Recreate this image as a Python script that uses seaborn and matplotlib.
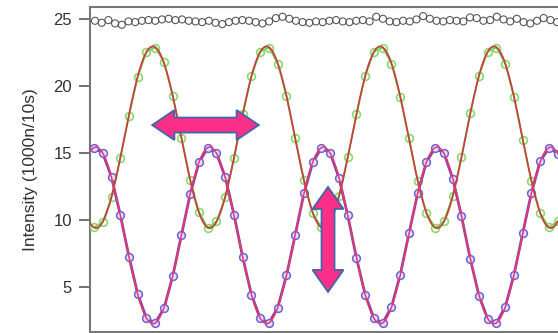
import numpy as np
import pandas as pd
import matplotlib
matplotlib.use("Agg")
import matplotlib.pyplot as plt
import matplotlib.patches as mpatches
import seaborn as sns

# ---------------- data ----------------
# sampling positions (x in units of the x-axis tick spacing)
x_start, x_step, n_pts = -0.1216, 0.11824, 54
black_start, black_step, n_black = -0.108, 0.0905, 70

green_vals = [9.45, 9.85, 11.7, 14.6, 17.8, 20.7, 22.6, 22.9, 21.8, 19.3,
              16.1, 13.0, 10.6, 9.4, 9.9, 11.7, 14.6, 17.9, 20.8, 22.6,
              22.9, 21.7, 19.3, 16.1, 13.0, 10.5, 9.45, 9.9, 11.8, 14.7,
              17.9, 20.8, 22.6, 22.9, 21.7, 19.2, 16.1, 12.9, 10.5, 9.4,
              9.9, 11.8, 14.7, 18.0, 20.8, 22.6, 22.9, 21.7, 19.2, 16.0,
              12.9, 10.5, 9.45, 9.9]
purple_vals = [15.4, 15.0, 13.2, 10.4, 7.25, 4.45, 2.65, 2.3, 3.4, 5.8,
               8.9, 11.95, 14.3, 15.4, 15.0, 13.2, 10.4, 7.2, 4.4, 2.65,
               2.3, 3.45, 5.85, 8.9, 12.0, 14.3, 15.4, 15.0, 13.15, 10.35,
               7.15, 4.4, 2.65, 2.3, 3.5, 5.9, 9.0, 12.0, 14.35, 15.4,
               15.0, 13.1, 10.3, 7.1, 4.35, 2.6, 2.3, 3.5, 5.9, 9.0,
               12.05, 14.4, 15.4, 14.95]
black_vals = [24.9, 24.75, 24.95, 24.7, 24.6, 24.85, 24.8, 24.9, 24.95, 24.9,
              25.0, 25.05, 24.95, 25.0, 24.9, 24.85, 24.8, 24.9, 24.75, 24.65,
              24.8, 24.9, 24.95, 24.9, 24.8, 24.7, 24.85, 25.1, 25.2, 25.05,
              24.9, 24.8, 24.75, 24.85, 24.8, 24.9, 24.95, 24.85, 24.8, 24.9,
              24.95, 24.85, 25.2, 25.05, 24.85, 24.8, 24.9, 24.85, 25.0, 25.25,
              25.05, 24.9, 24.85, 24.95, 24.9, 24.85, 25.15, 25.1, 24.9, 24.95,
              25.2, 25.0, 24.85, 25.05, 24.8, 24.7, 24.9, 25.1, 24.95, 24.8]
period = 1.5365          # oscillation period
y_ticks = [5, 10, 15, 20, 25]
x_ticks = [0, 1, 2, 3, 4, 5, 6]
y_label = "Intensity (1000n/10s)"

x_main = x_start + x_step * np.arange(n_pts)
x_black = black_start + black_step * np.arange(n_black)
df = pd.DataFrame({"x": x_main, "green": green_vals, "purple": purple_vals})
dfb = pd.DataFrame({"x": x_black, "black": black_vals})


def fit_curve(x, y, xs):
    w = 2 * np.pi / period
    A = np.column_stack([np.ones_like(x), np.cos(w * x), np.sin(w * x)])
    coef, *_ = np.linalg.lstsq(A, np.asarray(y), rcond=None)
    return coef[0] + coef[1] * np.cos(w * xs) + coef[2] * np.sin(w * xs)


# ---------------- figure ----------------
sns.set_theme(style="ticks")
plt.rcParams["font.family"] = ["Liberation Sans", "DejaVu Sans"]

fig = plt.figure(figsize=(5.58, 3.33), dpi=100)
ax = fig.add_axes([90 / 558, 1.5 / 333, 468 / 558, 324.5 / 333])

xs = np.linspace(-0.1757, 6.149, 600)

# black reference series
sns.scatterplot(data=dfb, x="x", y="black", ax=ax, marker="o", s=26,
                facecolor="none", edgecolor="#505050", linewidth=0.75, zorder=3)

# green series + fit
sns.lineplot(data=df, x="x", y="green", ax=ax, color="#7cc04a", lw=1.2,
             marker="o", markersize=5.6, markerfacecolor="none",
             markeredgecolor="#86d96e", markeredgewidth=1.2, zorder=3)
ax.plot(xs, fit_curve(x_main, green_vals, xs), color="#c0453c", lw=1.3, zorder=4)

# purple series + fit
sns.lineplot(data=df, x="x", y="purple", ax=ax, color="#9040b0", lw=2.0,
             marker="o", markersize=5.6, markerfacecolor="#e8dcf6",
             markeredgecolor="#6f5ee0", markeredgewidth=1.1, zorder=3)
ax.plot(xs, fit_curve(x_main, purple_vals, xs), color="#e03c68", lw=1.1, zorder=4)

# axes styling
ax.set_xlim(-0.1757, 6.149)
ax.set_ylim(1.66, 25.93)
ax.set_yticks(y_ticks)
ax.set_xticks(x_ticks)
ax.tick_params(axis="x", labelbottom=False, length=7, width=1.3, color="#666666")
ax.tick_params(axis="y", length=8, width=1.3, color="#666666", pad=5,
               labelsize=12, labelcolor="#333333")
ax.set_xlabel("")
ax.set_ylabel(y_label, fontsize=12.5, color="#333333")
ax.yaxis.set_label_coords(-0.112, 0.5)
for side in ["left", "top", "bottom"]:
    ax.spines[side].set_color("#777777")
    ax.spines[side].set_linewidth(1.5)
ax.spines["right"].set_visible(False)


# double arrows (annotation shapes)
def double_arrow(length, head_len, head_half, shaft_half):
    h = length / 2
    return [(-h, 0), (-h + head_len, head_half), (-h + head_len, shaft_half),
            (h - head_len, shaft_half), (h - head_len, head_half), (h, 0),
            (h - head_len, -head_half), (h - head_len, -shaft_half),
            (-h + head_len, -shaft_half), (-h + head_len, -head_half)]


fill_c, edge_c = "#fb2f88", "#3f66a8"
# horizontal arrow (x units per px = 1/74, y units per px = 1/13.37)
hp = double_arrow(1.44, 0.30, 15 / 13.37, 7.5 / 13.37)
hp = [(1.385 + a, 17.1 + b) for a, b in hp]
ax.add_patch(mpatches.Polygon(hp, closed=True, facecolor=fill_c, edgecolor=edge_c,
                              lw=1.3, zorder=6))
# vertical arrow
vp = double_arrow(7.85, 1.645, 15.5 / 74, 6.5 / 74)
vp = [(3.041 + b, 8.545 + a) for a, b in vp]
ax.add_patch(mpatches.Polygon(vp, closed=True, facecolor=fill_c, edgecolor=edge_c,
                              lw=1.3, zorder=6))

fig.savefig("out.png", dpi=100)
